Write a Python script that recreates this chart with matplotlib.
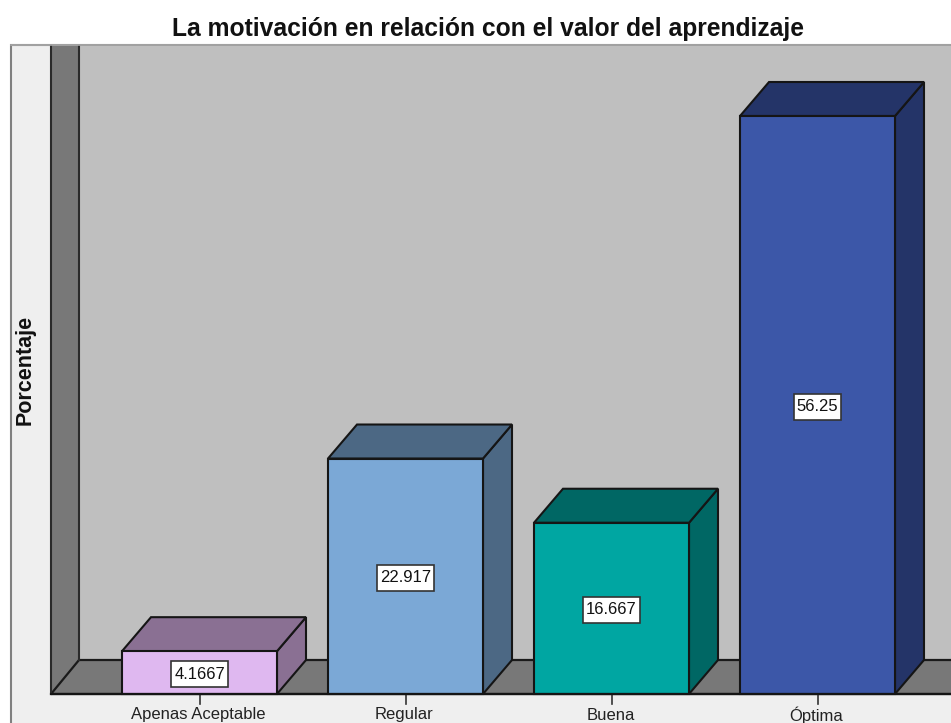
import matplotlib
matplotlib.use("Agg")
import matplotlib.pyplot as plt
from matplotlib.patches import Polygon, Rectangle

plt.rcParams['font.family'] = ['Liberation Sans', 'DejaVu Sans']

categorias = ["Apenas Aceptable", "Regular", "Buena", "Óptima"]
porcentajes = [4.1667, 22.917, 16.667, 56.25]
etiquetas = ["4.1667", "22.917", "16.667", "56.25"]
frente = ["#dfb8f0", "#7ba8d6", "#00a6a2", "#3c57a8"]
lado = ["#8a7093", "#4c6884", "#006764", "#243468"]

W, H = 951, 723
base_px = 694
px_y = 578 / 56.25     # pixels per percent
px_x = 206.0           # pixels per category
x0_px = 199.5

fig = plt.figure(figsize=(W / 100, H / 100), dpi=100)
ax = fig.add_axes([0, 0, 1, 1])
ax.set_xlim(-x0_px / px_x, (W - x0_px) / px_x)
ax.set_ylim(-(H - base_px) / px_y, base_px / px_y)
ax.axis("off")

# helpers to place the frame, given in image pixels
def X(p):
    return (p - x0_px) / px_x

def Y(p):
    return (base_px - p) / px_y

def poly(pts, fc, ec="#1a1a1a", lw=1.6, z=1):
    ax.add_patch(Polygon([(X(a), Y(b)) for a, b in pts], closed=True, fc=fc, ec=ec, lw=lw, zorder=z))

# panel, walls, floor
ax.add_patch(Rectangle((X(11), Y(740)), X(960) - X(11), Y(45) - Y(740), fc="#efefef", ec="#808080", lw=1.5, zorder=0))
poly([(79, 46), (960, 46), (960, 660), (79, 660)], "#bfbfbf", ec="none", lw=0, z=1)
poly([(51, 46), (79, 46), (79, 660), (51, 694)], "#787878", ec="none", lw=0, z=2)
poly([(51, 694), (79, 660), (960, 660), (960, 694)], "#787878", z=2)
ax.plot([X(51), X(51)], [Y(46), Y(694)], color="#2a2a2a", lw=1.5, zorder=3)
ax.plot([X(79), X(79)], [Y(46), Y(660)], color="#2a2a2a", lw=1.5, zorder=3)
ax.plot([X(11), X(951)], [Y(45), Y(45)], color="#a8a8a8", lw=1.2, zorder=3)

# 3d bars
ancho = 155 / px_x
dx = 29 / px_x
dy = 34 / px_y
caja_w = [57, 57, 57, 47]
for i, v in enumerate(porcentajes):
    l, r = i - ancho / 2, i + ancho / 2
    ax.add_patch(Polygon([(r, 0), (r + dx, dy), (r + dx, v + dy), (r, v)], fc=lado[i], ec="#151515", lw=1.5, zorder=4))
    ax.add_patch(Polygon([(l, v), (l + dx, v + dy), (r + dx, v + dy), (r, v)], fc=lado[i], ec="#151515", lw=1.5, zorder=4))
    ax.add_patch(Rectangle((l, 0), ancho, v, fc=frente[i], ec="#151515", lw=1.5, zorder=5))
    cy = v / 2 - 1.5 / px_y
    bw, bh = caja_w[i] / px_x, 26 / px_y
    ax.add_patch(Rectangle((i - bw / 2, cy - bh / 2), bw, bh, fc="white", ec="#333333", lw=1.2, zorder=6))
    ax.text(i, cy, etiquetas[i], ha="center", va="center", fontsize=12, color="#111111", zorder=7)
    ax.plot([i, i], [0, -10 / px_y], color="#333333", lw=1.2, zorder=3)
    ax.text(i - 1 / px_x, Y(715), categorias[i], ha="center", va="center", fontsize=12, color="#222222")

ax.plot([X(51), X(951)], [0, 0], color="#151515", lw=1.6, zorder=5)

ax.text(X(487.5), Y(29), "La motivación en relación con el valor del aprendizaje", ha="center", va="center",
        fontsize=17.7, fontweight="bold", color="#111111")
ax.text(X(25), Y(370), "Porcentaje", rotation=90, ha="center", va="center", fontsize=15.5, fontweight="bold", color="#111111")

fig.savefig("out.png", dpi=100)
